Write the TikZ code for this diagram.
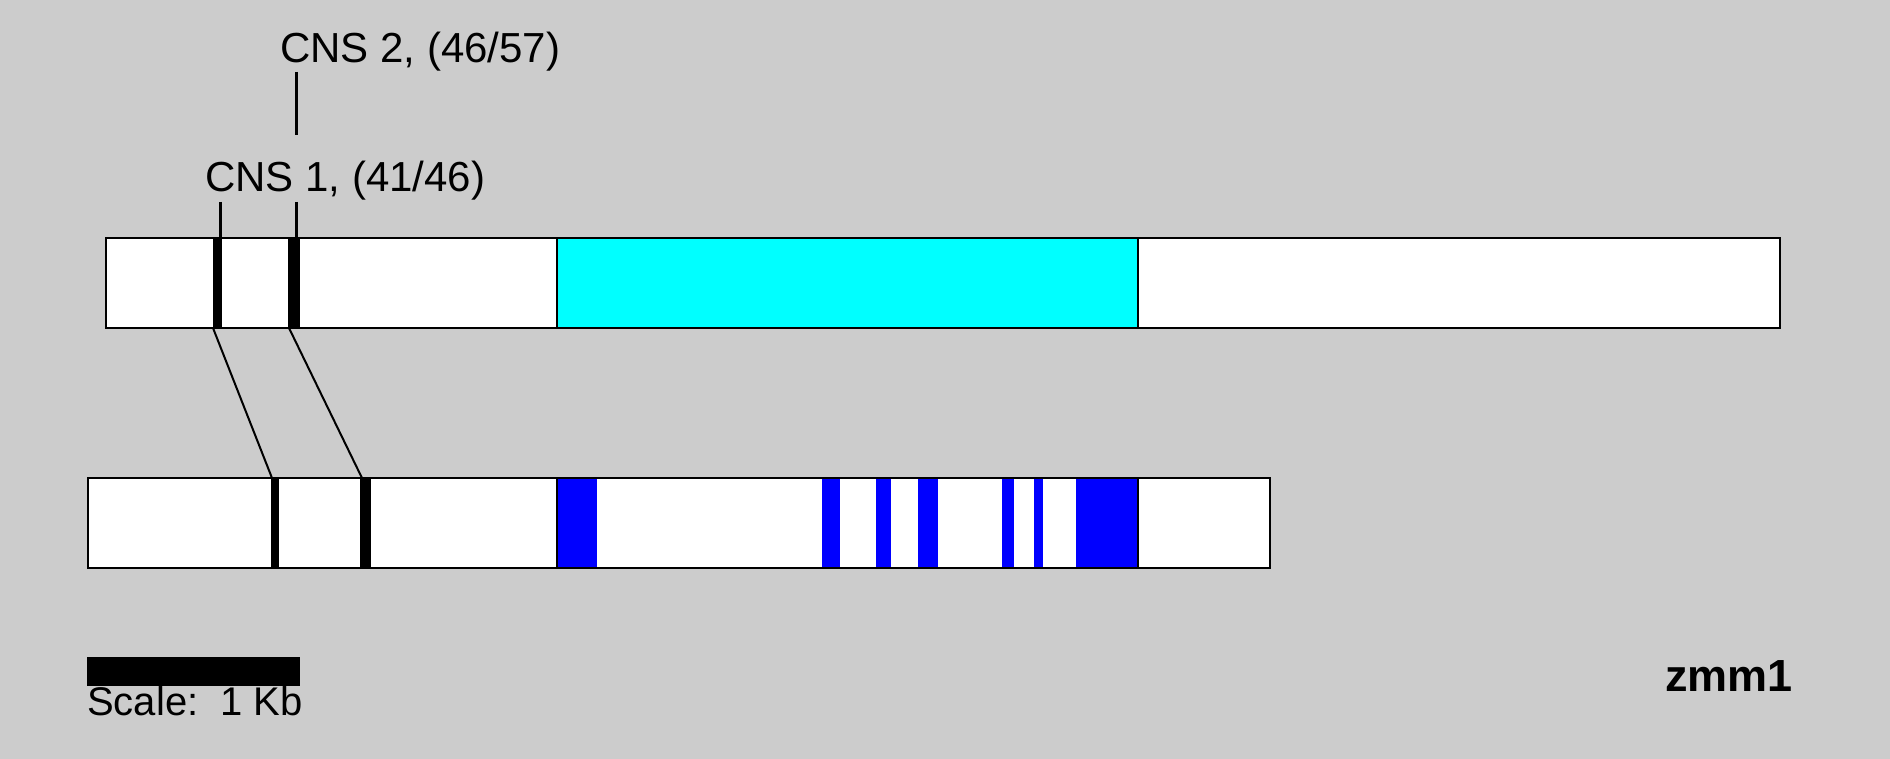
\documentclass[tikz,border=0pt]{standalone}
\usepackage{fontspec}
\setmainfont{Liberation Sans}
\definecolor{bg}{HTML}{CCCCCC}
\definecolor{cyanfill}{HTML}{00FFFF}
\definecolor{bluefill}{HTML}{0000FF}
\begin{document}
\begin{tikzpicture}[x=1pt,y=-1pt,
  barborder/.style={draw=black,line width=2.5pt},
  markfill/.style={fill=black},
  lab/.style={anchor=base west,inner sep=0pt,font=\fontsize{42}{50}\selectfont},
  ticks/.style={draw=black,line width=3pt},
  conn/.style={draw=black,line width=2pt},
  edge/.style={draw=black,line width=1.2pt}]
\useasboundingbox (0,0) rectangle (1890,759);
\fill[bg] (0,0) rectangle (1890,759);
% top bar
\fill[white] (106,238) rectangle (1780,328);
\fill[cyanfill] (557,238) rectangle (1138,328);
\draw[edge] (557,238) -- (557,328);
\draw[edge] (1138,238) -- (1138,328);
\fill[markfill] (213,238) rectangle (222,328);
\fill[markfill] (288,238) rectangle (300,328);
\draw[barborder] (106,238) rectangle (1780,328);
% bottom bar
\fill[white] (88,478) rectangle (1270,568);
\foreach \a/\b in {557/597,822/840,876/891,918/938,1002/1014,1034/1043,1076/1138}
  \fill[bluefill] (\a,478) rectangle (\b,568);
\draw[edge] (557,478) -- (557,568);
\draw[edge] (1138,478) -- (1138,568);
\fill[markfill] (271,478) rectangle (279,568);
\fill[markfill] (360,478) rectangle (371,568);
\draw[barborder] (88,478) rectangle (1270,568);
% named coordinates
\coordinate (t1) at (213,328);
\coordinate (t2) at (289,328);
\coordinate (b1) at (272,478);
\coordinate (b2) at (362,478);
\coordinate (k1a) at (220,202);
\coordinate (k1b) at (220,238);
\coordinate (k2a) at (296,202);
\coordinate (k2b) at (296,238);
\coordinate (k3a) at (296,72);
\coordinate (k3b) at (296,135);
% labels
\node[lab] (cns2) at (280,63) {CNS 2, (46/57)};
\node[lab] (cns1) at (205,192) {CNS 1, (41/46)};
% ticks
\draw[ticks] (k1a) -- (k1b);
\draw[ticks] (k2a) -- (k2b);
\draw[ticks] (k3a) -- (k3b);
% connectors
\draw[conn] (t1) -- (b1);
\draw[conn] (t2) -- (b2);
% scale
\fill[black] (87,657) rectangle (300,686);
\node[lab,font=\fontsize{40}{48}\selectfont] (scale) at (87,715) {Scale:\ \ 1 Kb};
\node[lab,font=\fontsize{45}{54}\selectfont\bfseries] (name) at (1665,691) {zmm1};
\end{tikzpicture}
\end{document}
